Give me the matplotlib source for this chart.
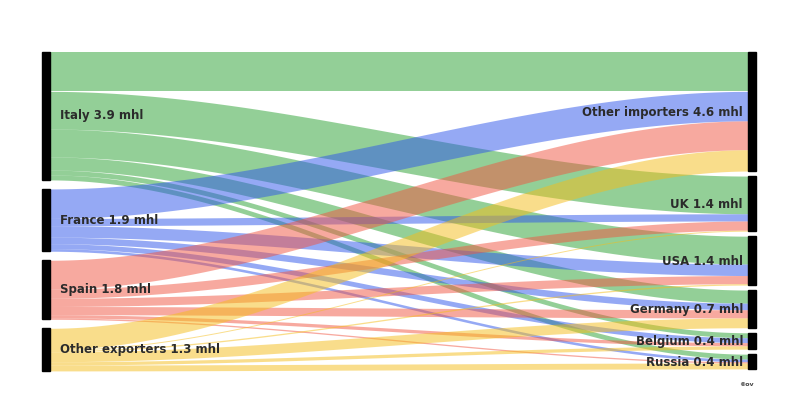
import numpy as np
import matplotlib
matplotlib.use('Agg')
import matplotlib.pyplot as plt

# exporters (left) and importers (right)
sources = ['Italy', 'France', 'Spain', 'Other exporters']
source_labels = ['Italy 3.9 mhl', 'France 1.9 mhl', 'Spain 1.8 mhl', 'Other exporters 1.3 mhl']
source_colors = ['#29a131', '#2d55eb', '#f15541', '#f5bd19']

targets = ['Other importers', 'UK', 'USA', 'Germany', 'Belgium', 'Russia']
target_labels = ['Other importers 4.6 mhl', 'UK 1.4 mhl', 'USA 1.4 mhl',
                 'Germany 0.7 mhl', 'Belgium 0.4 mhl', 'Russia 0.4 mhl']

# flows in mhl, one list per exporter, in the order of targets
italy = [1.20, 1.15, 0.85, 0.40, 0.15, 0.15]
france = [0.90, 0.22, 0.35, 0.20, 0.15, 0.08]
spain = [0.88, 0.28, 0.25, 0.25, 0.10, 0.04]
other_exp = [0.65, 0.03, 0.04, 0.30, 0.10, 0.18]
flows = [italy, france, spain, other_exp]

# layout (pixels)
W, H = 800, 409
top = 52
scale = 32.8          # px per mhl
gap_left = 9
gap_right = 5
x0, x1 = 50, 748
bar_w = 8

fig = plt.figure(figsize=(W / 100, H / 100), dpi=100)
ax = fig.add_axes([0, 0, 1, 1])
ax.set_xlim(0, W)
ax.set_ylim(H, 0)
ax.axis('off')

flows = np.array(flows)
src_tot = flows.sum(axis=1)
tgt_tot = flows.sum(axis=0)

# node positions
src_y = []
y = top
for v in src_tot:
    src_y.append(y)
    y += v * scale + gap_left
tgt_y = []
y = top
for v in tgt_tot:
    tgt_y.append(y)
    y += v * scale + gap_right

# link offsets: left side ordered by target, right side ordered by source
left_off = [src_y[i] + np.concatenate([[0], np.cumsum(flows[i])[:-1]]) * scale
            for i in range(len(sources))]
right_off = [tgt_y[j] + np.concatenate([[0], np.cumsum(flows[:, j])[:-1]]) * scale
             for j in range(len(targets))]

xs = np.linspace(x0, x1, 300)
t = (xs - x0) / (x1 - x0)
s = 3 * t**2 - 2 * t**3

for i in range(len(sources)):
    for j in range(len(targets)):
        w = flows[i, j] * scale
        ya = left_off[i][j]
        yb = right_off[j][i]
        y_top = ya + (yb - ya) * s
        ax.fill_between(xs, y_top, y_top + w, color=source_colors[i],
                        alpha=0.5, linewidth=0)

# node bars
lab_font = ['Liberation Sans Narrow', 'DejaVu Sans']
for i in range(len(sources)):
    h = src_tot[i] * scale
    ax.add_patch(plt.Rectangle((x0 - bar_w, src_y[i]), bar_w, h, color='black'))
    ax.text(x0 + 10, src_y[i] + h / 2, source_labels[i], ha='left', va='center',
            fontsize=8.5, fontweight='bold', color='#2b2b2b', family=lab_font)
for j in range(len(targets)):
    h = tgt_tot[j] * scale
    ax.add_patch(plt.Rectangle((x1, tgt_y[j]), bar_w, h, color='black'))
    ax.text(x1 - 5, tgt_y[j] + h / 2 + 1, target_labels[j], ha='right', va='center',
            fontsize=8.5, fontweight='bold', color='#2b2b2b', family=lab_font)

ax.text(x1 - 2, 384, '\u00a9ov', ha='center', va='center', fontsize=4.5,
        color='#444444', fontweight='bold')

fig.savefig('out.png', dpi=100)
